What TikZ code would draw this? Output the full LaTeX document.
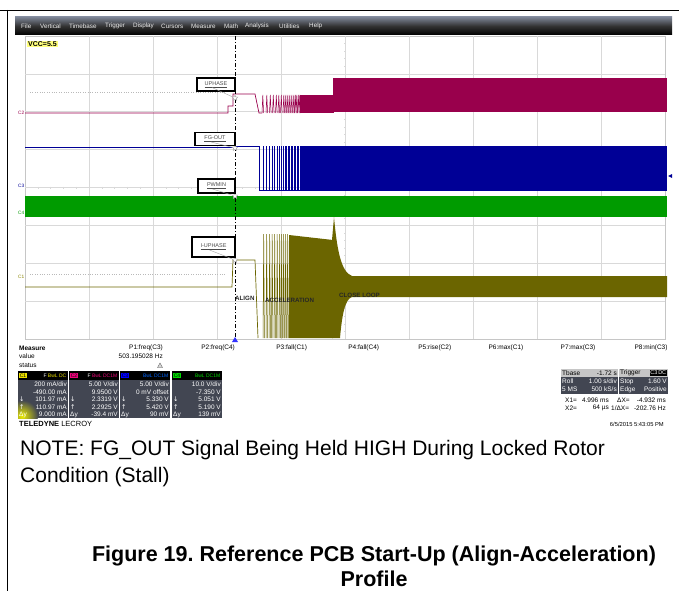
\documentclass[tikz,border=0pt]{standalone}
\usepackage{fontspec}
\setmainfont{Liberation Sans}
\newfontfamily\arrowfont{DejaVu Sans}
\usetikzlibrary{shapes.geometric}
\frenchspacing

\definecolor{traceA}{RGB}{107,101,0}
\definecolor{traceB}{RGB}{153,0,76}
\definecolor{traceC}{RGB}{0,0,150}
\definecolor{traceD}{RGB}{0,155,0}
\definecolor{panel}{RGB}{66,70,82}
\definecolor{menutop}{RGB}{125,133,150}
\definecolor{vccyellow}{RGB}{255,255,125}

\begin{document}
\begin{tikzpicture}[x=1pt,y=-1pt,
    gridline/.style={gray!30,line width=0.5pt},
    tagbox/.style={draw=black,line width=1.6pt,fill=white,inner sep=0pt,
      font=\fontsize{5.5}{6}\selectfont,text=gray!60!black},
    cursormark/.style={star,star points=5,star point ratio=2.2,draw=gray!70,
      fill=white,inner sep=0pt,minimum size=6pt},
    phaselabel/.style={font=\fontsize{6.2}{7}\selectfont\bfseries,text=black!85,
      inner sep=0pt,anchor=west},
    chlabel/.style={font=\fontsize{4.8}{5}\selectfont,inner sep=0pt,anchor=west},
    menuitem/.style={font=\fontsize{6.3}{7}\selectfont,text=white!85!gray,
      inner sep=0pt,anchor=west},
    scopetext/.style={font=\fontsize{6.5}{7}\selectfont,inner sep=0pt},
    boxval/.style={font=\fontsize{6.5}{7}\selectfont,text=white,inner sep=0pt,anchor=east},
    chtag/.style={font=\fontsize{5}{5}\selectfont,inner sep=0.6pt,text=black},
    hdrtag/.style={font=\fontsize{5}{5}\selectfont,inner sep=0.5pt,anchor=east}]
\useasboundingbox (0,0) rectangle (679,591);

% page frame
\draw[line width=0.9pt] (0,10) -- (679,10);
\draw[line width=0.9pt] (7,10) -- (7,591);

% menu bar
\shade[top color=menutop,bottom color=black,middle color=black!80] (15,17) rectangle (672,35);
\foreach \mx/\mw in {21/File,40/Vertical,69/Timebase,105/Trigger,133/Display,161/Cursors,
    191/Measure,224/Math,245/Analysis,279/Utilities,309/Help}
  \node[menuitem] (menu\mw) at (\mx,26) {\mw};

% grid
\draw[gray!45] (25,36) rectangle (665,339);
\foreach \gx in {1,...,9}
  \draw[gridline] ({25+64*\gx},36) -- ({25+64*\gx},339);
\foreach \gy in {1,...,7}
  \draw[gridline] (25,{36+37.875*\gy}) -- (665,{36+37.875*\gy});
\foreach \t in {1,...,49}
  \draw[gridline] ({25+12.8*\t},186.5) -- ++(0,2);
\foreach \t in {1,...,39}
  \draw[gridline] (344,{36+7.575*\t}) -- ++(2,0);
\draw[gray!55,dotted] (30,92) -- (225,92);
\draw[gray!55,dotted] (30,274) -- (225,274);

\node[fill=vccyellow,inner sep=1pt,font=\fontsize{7}{8}\selectfont\bfseries,anchor=west]
  (vcc) at (27,44) {VCC=5.5};

% C4 (green)
\fill[traceD] (25,196) rectangle (667,217);

% C2 (magenta)
\draw[traceB,line width=0.7pt] (25,113) -- (228,113) -- (228,106) -- (233,106) -- (233,94)
  -- (255,94) -- (259,113) -- (262,113);
\foreach \sx in {262,266,269.5,272.5,275.5,278,280.5,283,285,287,289,291,293,294.5,296,297.5,299}
  \draw[traceB,line width=0.5pt] (\sx,113) -- (\sx+0.8,95) -- (\sx+1.6,113);
\fill[traceB] (300,95) rectangle (334,113);
\fill[traceB] (333,78) rectangle (667,112);

% C3 (blue)
\draw[traceC,line width=0.7pt] (25,147) -- (235,147) -- (235,146) -- (259,146);
\foreach \sx in {259,263,266,269,272,274.5,277,279,281,283,285,286.5,288,289.5,291,292.5,294,295.5,297,298.5}
  \draw[traceC,line width=0.5pt] (\sx,146) -- (\sx,190);
\draw[traceC,line width=0.6pt] (259,190) -- (300,190);
\fill[traceC] (300,145.5) rectangle (667,190.5);

% C1 (olive)
\draw[traceA,line width=0.7pt] (25,287) -- (232,287) -- (233,260) -- (255,260) -- (258,338);
\foreach \sx in {263,266,269,271.5,274,276.5,279,281,283,285,287}
  \draw[traceA,line width=0.5pt] (\sx,338) -- (\sx+0.7,234) -- (\sx+1.4,338);
\fill[traceA] (289,235) -- (333,240) -- (333,338) -- (289,338) -- cycle;
\fill[traceA] (332,338) -- (332,240) -- (334,217) .. controls (337,250) and (341,272) .. (352,276)
  -- (667,276) -- (667,297) -- (352,297) .. controls (345,299) and (342,315) .. (340,338) -- cycle;

% channel labels
\node[chlabel,text=traceB] (lblC2) at (18,113) {C2};
\node[chlabel,text=traceC] (lblC3) at (18,186) {C3};
\node[chlabel,text=traceD] (lblC4) at (18,213) {C4};
\node[chlabel,text=traceA!80!yellow] (lblC1) at (18,277) {C1};
\fill[traceC] (668,176) -- (672,174) -- (672,178) -- cycle;

% cursor line
\draw[black,line width=0.8pt,dash pattern=on 4pt off 2pt on 1pt off 2pt] (235,36) -- (235,338);
\fill[blue!80] (232,342) -- (235,337) -- (238,342) -- cycle;

% cursor marks and tags
\node[cursormark] (mkU) at (235,98) {};
\node[cursormark] (mkF) at (235,148) {};
\node[cursormark] (mkP) at (235,196) {};
\node[cursormark] (mkI) at (235,260) {};
\node[tagbox,minimum width=38pt,minimum height=13pt] (uphase) at (216,84.5) {\underline{UPHASE}};
\node[tagbox,minimum width=40pt,minimum height=13pt] (fgout) at (215,139) {\underline{FG-OUT}};
\node[tagbox,minimum width=37pt,minimum height=14pt] (pwmin) at (216.5,186) {\underline{PWMIN}};
\node[tagbox,minimum width=43pt,minimum height=20pt] (iuphase) at (213.5,247) {\underline{I-UPHASE}};
\draw[gray!70,line width=0.4pt] ([xshift=-4pt,yshift=-3pt]uphase.center) -- (mkU);
\draw[gray!70,line width=0.4pt] ([xshift=-4pt,yshift=-3pt]fgout.center) -- (mkF);
\draw[gray!70,line width=0.4pt] ([xshift=-4pt,yshift=-3pt]pwmin.center) -- (mkP);
\draw[gray!70,line width=0.4pt] ([xshift=-4pt,yshift=-3pt]iuphase.center) -- (mkI);

% phase labels
\node[phaselabel] (align) at (235,298) {ALIGN};
\node[phaselabel] (accel) at (265,300) {ACCELERATION};
\node[phaselabel] (close) at (339,295) {CLOSE LOOP};

% measurement row
\node[scopetext,anchor=west,font=\fontsize{6.5}{7}\selectfont\bfseries] (meas) at (19,348) {Measure};
\node[scopetext,anchor=west] (value) at (19,356.5) {value};
\node[scopetext,anchor=west] (status) at (19,365) {status};
\foreach \i/\lab in {1/P1:freq(C3),2/P2:freq(C4),3/P3:fall(C1),4/P4:fall(C4),
    5/P5:rise(C2),6/P6:max(C1),7/P7:max(C3),8/P8:min(C3)}
  \node[scopetext,anchor=east] (p\i) at ({163+72.1*(\i-1)},348) {\lab};
\node[scopetext,anchor=east] (p1val) at (163,356.5) {503.195028 Hz};
\draw[gray!60!black,fill=gray!30,line width=0.3pt] (157.5,367.5) -- (160,363) -- (162.5,367.5) -- cycle;

% channel panels
\begin{scope}
  \clip (18,380) rectangle (68,418);
  \fill[panel] (18,380) rectangle (68,418);
  \shade[inner color=yellow!85!olive,outer color=panel] (22,416) circle (16pt);
\end{scope}
\foreach \bx in {69,120,172}
  \fill[panel] (\bx,380) rectangle ++(50,38);
\foreach \bx/\cc/\cn in {18/yellow!85!olive/C1,69/magenta!85!red/C2,120/blue/C3,172/green!85!black/C4}{
  \fill[black] (\bx,371) rectangle ++(50,9);
  \node[chtag,fill=\cc,anchor=west] (tag\cn) at (\bx+1,375.5) {\cn};
}
\node[hdrtag,text=yellow!85!olive] (hdrC1) at (67,375.5) {\textcolor{white}{F}\ BwL\ DC};
\node[hdrtag,text=magenta!80!red] (hdrC2) at (118,375.5) {\textcolor{white}{F}\ BwL\ DC1M};
\node[hdrtag,text=blue!60!cyan] (hdrC3) at (169,375.5) {BwL\ DC1M};
\node[hdrtag,text=green!85!black] (hdrC4) at (221,375.5) {BwL\ DC1M};
\foreach \bx/\va/\vb/\vc/\vd/\ve in {67/{200 mA/div}/-490.00 mA/101.97 mA/110.97 mA/9.000 mA,
    118/{5.00 V/div}/9.9500 V/2.3319 V/2.2925 V/-39.4 mV,
    169/{5.00 V/div}/0 mV offset/5.330 V/5.420 V/90 mV,
    221/{10.0 V/div}/-7.350 V/5.051 V/5.190 V/139 mV}{
  \node[boxval] (a\bx) at (\bx,384.5) {\va};
  \node[boxval] (b\bx) at (\bx,392) {\vb};
  \node[boxval] (c\bx) at (\bx,399.5) {\vc};
  \node[boxval] (d\bx) at (\bx,407) {\vd};
  \node[boxval] (e\bx) at (\bx,414.5) {\ve};
  \node[boxval,anchor=west] (f\bx) at (\bx-48,399.5) {\arrowfont ↓};
  \node[boxval,anchor=west] (g\bx) at (\bx-48,407) {\arrowfont ↑};
  \node[boxval,anchor=west] (h\bx) at (\bx-48,414.5) {Δy};
}
\node[scopetext,anchor=west,font=\fontsize{7.5}{8}\selectfont] (brand) at (19,423.5)
  {\textbf{TELEDYNE} LECROY};

% timebase and trigger panels
\fill[gray!45] (561,369) rectangle (618,377);
\fill[panel] (561,377) rectangle (618,394);
\fill[gray!45] (619,369) rectangle (668,377);
\fill[panel] (619,377) rectangle (668,394);
\node[scopetext,anchor=west] (tb1) at (562,373) {Tbase};
\node[scopetext,anchor=east] (tb2) at (617,373) {-1.72 s};
\node[scopetext,anchor=west,text=white] (tb3) at (562,381.5) {Roll};
\node[scopetext,anchor=east,text=white] (tb4) at (617,381.5) {1.00 s/div};
\node[scopetext,anchor=west,text=white] (tb5) at (562,389.5) {5 MS};
\node[scopetext,anchor=east,text=white] (tb6) at (617,389.5) {500 kS/s};
\node[scopetext,anchor=west] (tr1) at (620,373) {Trigger};
\node[scopetext,anchor=east,fill=black,text=white,inner sep=0.6pt,font=\fontsize{5.5}{6}\selectfont] (tr2) at (667,373) {C3\,DC};
\node[scopetext,anchor=west,text=white] (tr3) at (620,381.5) {Stop};
\node[scopetext,anchor=east,text=white] (tr4) at (667,381.5) {1.60 V};
\node[scopetext,anchor=west,text=white] (tr5) at (620,389.5) {Edge};
\node[scopetext,anchor=east,text=white] (tr6) at (667,389.5) {Positive};
\node[scopetext,anchor=west] (x1a) at (565,400) {X1=};
\node[scopetext,anchor=east] (x1b) at (609,400) {4.996 ms};
\node[scopetext,anchor=west] (x1c) at (617,400) {ΔX=};
\node[scopetext,anchor=east] (x1d) at (666,400) {-4.932 ms};
\node[scopetext,anchor=west] (x2a) at (565,408) {X2=};
\node[scopetext,anchor=east] (x2b) at (609,408) {64 µs};
\node[scopetext,anchor=west] (x2c) at (611,408) {1/ΔX=};
\node[scopetext,anchor=east] (x2d) at (666,408) {-202.76 Hz};
\node[scopetext,anchor=east,font=\fontsize{5.8}{6}\selectfont] (date) at (664,424) {6/5/2015 5:43:05 PM};

% note and caption
\node[anchor=base west,inner sep=0pt,font=\fontsize{21}{24}\selectfont] (note1) at (20,455)
  {NOTE: FG\_OUT Signal Being Held HIGH During Locked Rotor};
\node[anchor=base west,inner sep=0pt,font=\fontsize{21}{24}\selectfont] (note2) at (20,482)
  {Condition (Stall)};
\node[anchor=base,inner sep=0pt,font=\fontsize{21.5}{24}\selectfont\bfseries] (cap1) at (374,561)
  {Figure 19. Reference PCB Start-Up (Align-Acceleration)};
\node[anchor=base,inner sep=0pt,font=\fontsize{21.5}{24}\selectfont\bfseries] (cap2) at (374,586)
  {Profile};
\end{tikzpicture}
\end{document}
